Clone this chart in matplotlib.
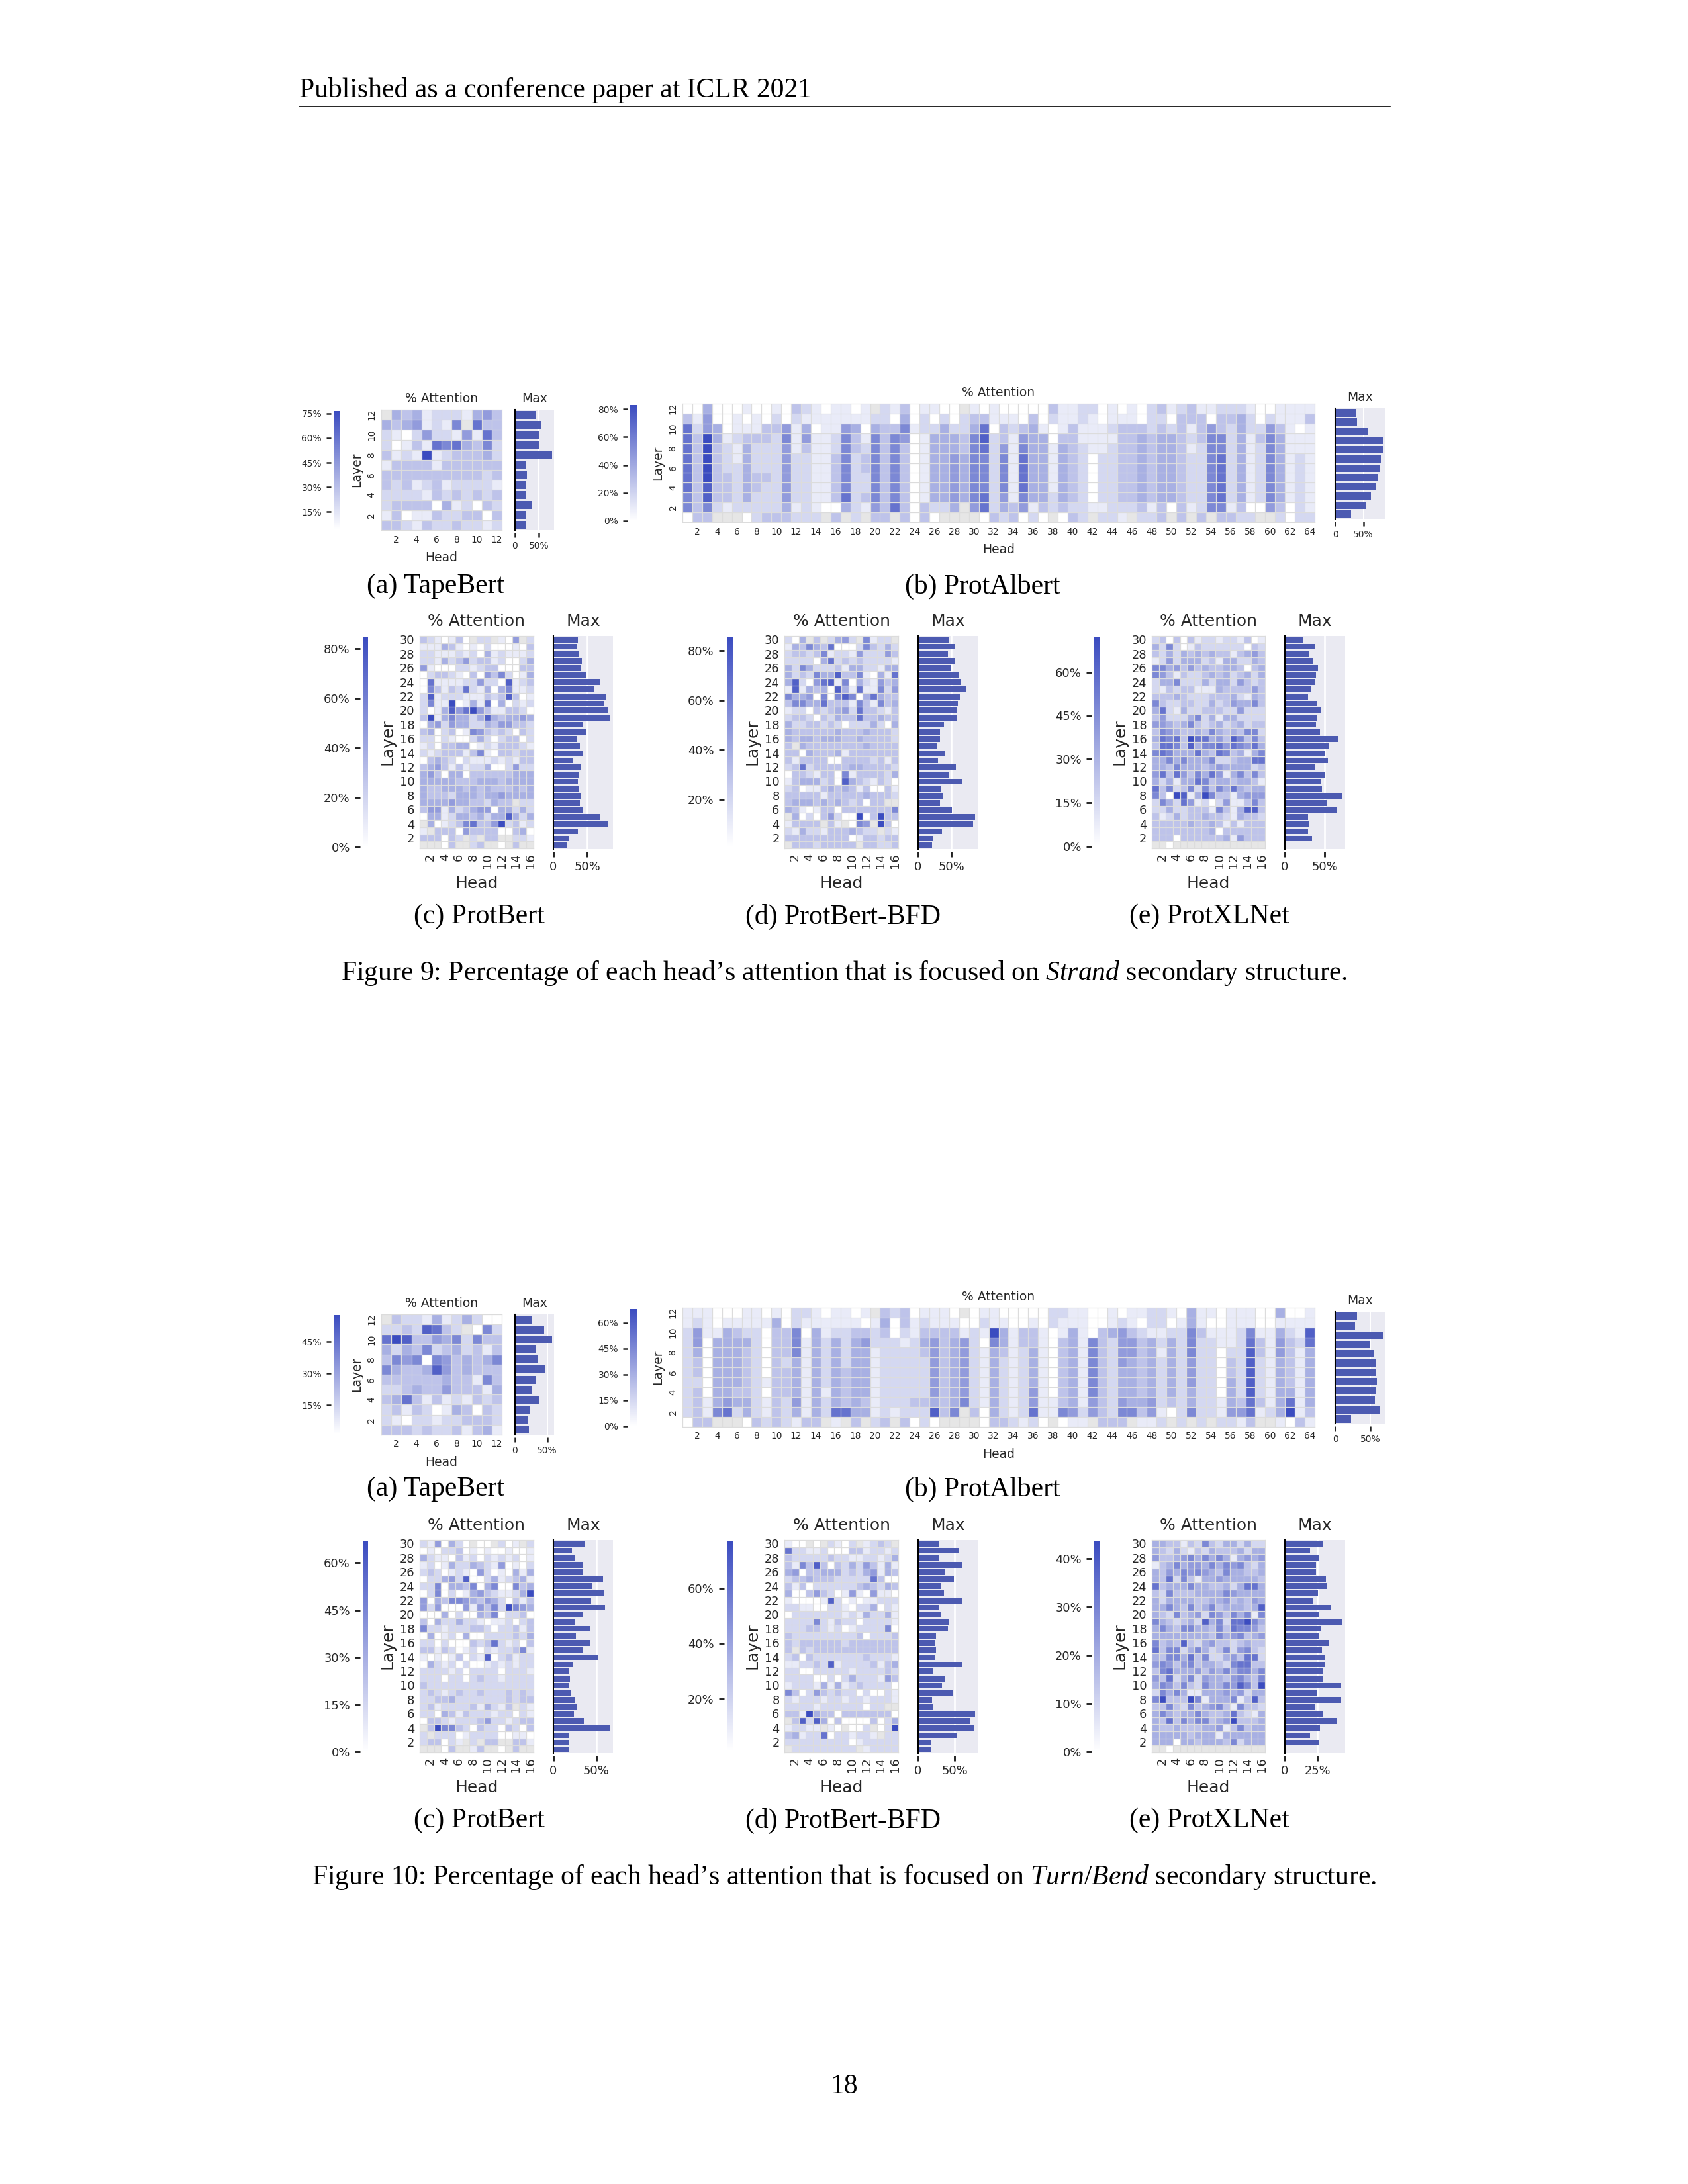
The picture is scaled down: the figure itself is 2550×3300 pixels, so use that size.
import numpy as np
import matplotlib.pyplot as plt
from matplotlib.colors import LinearSegmentedColormap

plt.rcParams['font.family'] = 'DejaVu Sans'
plt.rcParams['mathtext.fontset'] = 'custom'
plt.rcParams['mathtext.rm'] = 'Liberation Serif'
plt.rcParams['mathtext.it'] = 'Liberation Serif:italic'

# heatmap cells: one string per layer (top layer first), one char per head,
# digit = intensity step 0..9 between the colour bar's min and max, '.' = no value
tape9_rows = [
    ".43412221453", "43451216.733", "210252215173", "201317674362",
    "312191233342", "133331333333", "333333333323", "323123122221",
    "222213232323", "233330412032", "130113223303", "332132232212",
]
tape9_max = [44, 55, 51, 51, 77, 23, 25, 23, 22, 34, 23, 22]
tape9_range = (4.3, 76.5)

albert9_rows = [
    "0040001001 032101101. 21301100.1 0100000311 2201010231 2311222100 1111",
    "3150010102 0211111112 2040202023 3111030211 2101110220 3330334202 1113",
    "7254011133 5140115404 3361224224 7032341013 1112333232 3135324225 3101",
    "7394123332 6151126316 3650144436 8231544033 1111334344 3236624136 4111",
    "7393214222 5131126326 3630144436 7251644143 2112334344 3126624126 4111",
    "7393214222 5221136236 3630144546 6261744143 2022334344 3226724126 4121",
    "7393224222 5221136236 3630144546 6261744143 2022334344 3226724126 4121",
    "7393324332 5221136226 3630144546 6261744143 2022334344 3226724126 4121",
    "7383324322 5221136226 3630144546 6261744143 2022334344 3226724126 4121",
    "6383324222 5221137236 3630144546 7251644243 2022334344 3226724126 4121",
    "6362122222 4121004215 37303224.5 7243513232 2112223130 3126613005 3021",
    "033...0233 3222.3.2.3 3.3030.... 0323020.03 2.221.223. 3.3.3322.. 2022",
]
albert9_max = [37.5, 39, 57, 85, 84, 81, 79, 76, 72, 63, 54, 28]
albert9_range = (0, 83)

protbert9_rows = [
    "3210130.22.105.2", "1114310102000103", "2211121204121112", "2214235233120024",
    "5100022123300033", "0233210305362014", "0711112252208123", "0631327214046112",
    "2812221113238301", "2611901417040212", "2014857953113320", "3914644248434454",
    "0452544224355332", "3402301653232032", "2202100242023302", "1203344012133321",
    "2123331361033233", "0343202111212133", "3453131224002522", "4530440333333444",
    "4444433344434444", "4334443434333434", "4333244434454444", "4444544332433.22",
    "3551423455044242", "0441244342448424", ".401236733592312", "1.33305333300340",
    "333032.2.33..221", "...03..23..0.3..",
]
protbert9_max = [36, 35, 37, 42, 40.5, 49, 70, 60, 78, 75.5, 81, 84, 43.5, 49, 34,
                 39.5, 43, 29, 41, 37, 36, 38.5, 41, 39.5, 43, 70, 80, 36, 23, 21]
protbert9_range = (0, 84.6)

bfd9_rows = [
    "204.3.2452.6122.", "1436437000263242", "2332361221522253", "2222047232322221",
    "4264222314422144", "4232644833610417", "4820578160421534", "1814340841711625",
    "6445060686047433", "3664473331631634", "1220323452733213", "2332032433733433",
    "4223323202224204", "4333333433343332", "4344344433433332", "3.43333333343333",
    "3304333413333333", "3133330033332313", "2372333334433332", "0332133061333324",
    "1344423084321320", "2301134343130031", "3333313333343332", "34443434323033..",
    "4310133033333336", ".402035200903933", "13333.31.065.930", "2142213334322.21",
    "3333333330133233", ".333233333.33223",
]
bfd9_max = [46, 55, 44.7, 55.7, 50.3, 62.3, 64.3, 72, 63, 60, 58.7, 57.7, 39.3, 32.7, 33,
            29, 39.7, 30, 57, 46.7, 67.3, 34, 38, 33.3, 50.7, 85.7, 82.7, 35.7, 23.3, 21]
bfd9_range = (1.2, 85.2)

xlnet9_rows = [
    "2303031221221301", "4262013222222032", "3242434343313453", "1252444231442243",
    "6645353433443034", "6531322343423424", "2446222424425323", "2132331114333353",
    "3334322233342143", "6322332242354463", "4721422333225222", "3522246241442222",
    "5543463234234233", "3654334364343662", "4767397745386363", "3776384667576574",
    "6764447437634146", "4464644462234477", "4436444345444423", "5737536475146363",
    "4241447634434431", "7362362636474344", "6309814963314555", "2642751202511363",
    "2242233316314883", "3124233433214332", "3333343343131333", "3333333340333333",
    "3330333333415333", "..0.............",
]
xlnet9_max = [22, 37.2, 30, 34.7, 41.7, 38.6, 37.2, 33, 28.9, 40.8, 45.3, 40.6, 38.6, 44.2,
              66.9, 54.7, 50.3, 53.9, 37.8, 49.7, 45.3, 46.4, 71.9, 53, 65.3, 29.2, 30.8,
              29.4, 33.9, np.nan]
xlnet9_range = (0, 72)

tape10_rows = [
    ".32214124200", "22328732.062", "798335462633", "424362342313",
    "365606534346", "643348534333", "333333433163", "223433533314",
    "347313121323", "231320143032", "210221223332", "333232231341",
]
tape10_max = [26.2, 45.5, 57.7, 32.2, 35.7, 46.9, 32.5, 25.9, 36.7, 23.4, 19.6, 22]
tape10_range = (1.4, 57.6)

albert10_rows = [
    "1110001101 022101101. 32301110.0 1100000221 1001011221 0411011100 4001",
    "1210111114 0211111101 4031211100 2110010211 1001210220 1410011100 1111",
    "2511432203 3604122332 3021333312 1941331014 1034532112 2631112611 4218",
    "2504444203 3614242452 2212453452 0641331034 1632553424 2622112731 5327",
    "2404443203 3614242441 2222353452 1431241034 1632553414 2622022831 5314",
    "2304443203 2414242441 2222253452 1421241034 1632543424 2522032821 4314",
    "2304443203 3414243441 2222253452 1421241034 1632443424 2522032821 4314",
    "2204443213 3414243441 2222253452 1421241034 1632443424 2522042821 4314",
    "2304433203 3414143441 2222253452 1421251034 1632443424 2422042821 4414",
    "2314544213 2514243431 2223343462 1421251134 1532544523 2422143731 4714",
    "2316724213 2414277441 21222836.3 0421271165 2532663510 2622155712 4913",
    "033...0323 2133.1.3.2 3.3020.... 0332120.01 1.333.112. 2.2.2213.. 1031",
]
albert10_max = [31.1, 28.5, 68.1, 49.6, 54.8, 57.8, 58.5, 58.9, 58.5, 56.3, 64.1, 22.6]
albert10_range = (0, 68)

protbert10_rows = [
    "2150420.00.201.2", "0102230101001001", "4211031202121201", "1201422432150102",
    "2320121052010414", "0224528002412341", "2260443604600634", "0260201453211249",
    "5043665435420313", "5250005153629654", "0004020043602230", "3042242210112023",
    "6221222332022313", "0401204002222324", "2202000323721203", "3313201202122361",
    "1010130218023122", "0421202001212122", "2222120222202221", "2220220232212222",
    "3222222222222222", "2321232232223232", "2233422222223233", "2312222314213.21",
    "2204313222122021", "0332122235221233", ".396632032203203", "2.22201222200110",
    "233021.2.33..331", "...03..13..0.3..",
]
protbert10_max = [36.2, 21.5, 25.1, 33.8, 34.4, 57.7, 44.9, 59.5, 43.8, 60.5, 33.8, 25.1,
                  42.6, 26.2, 42.8, 35.1, 52.6, 23.3, 17.7, 19.2, 17.9, 20.5, 24.6, 27.9,
                  24.1, 35.6, 66.2, 17.7, 17.7, 17.9]
protbert10_range = (0, 66.8)

bfd10_rows = [
    "100.0.2102.1232.", "7221120003312212", "3222223221122124", "3163830324253141",
    "4503344423245143", "2334333222227300", "3130222222343243", "4003532015105110",
    "1000018201011222", "2211002210224021", "0222222212142241", "2222621322022221",
    "2223321201222260", "3222222222302223", "3233333323333333", "3.32333333333333",
    "2303222222232221", "1122328122223134", "2200222221222232", "2222002024222153",
    "1222141412322220", "6302532322020021", "2122212212212221", "22221222222022..",
    "3319433033333330", ".382840300003024", "12211.10.002.029", "3412270221221.22",
    "2222222220122222", ".222222222.12222",
]
bfd10_max = [27.7, 56, 29.2, 59.6, 36.1, 48.8, 31, 34.9, 60.2, 28.6, 30.4, 42.8, 40.4,
             24.1, 23.5, 24.4, 23.5, 60.5, 20.2, 36.4, 32.5, 47, 18.7, 19.9, 77.4, 70.8,
             76.8, 52.1, 17.5, 17.5]
bfd10_range = (1.2, 77)

xlnet10_rows = [
    "4433132632442422", "4324213243334244", "5334564646414545", "1346455464656324",
    "4354656543644334", "4372631445444443", "7344464433424774", "3263334444654444",
    "4244443344534354", "4464363463444348", "4326345265364616", "6432342846277964",
    "4643664436376653", "4444444436456345", "6343832453323433", "7366246423625632",
    "4366473622453772", "5653563443267733", "3674445354646646", "5372462544356436",
    "4653632644658639", "2646411444545244", "6933396144461383", "3363263456316332",
    "4643446433473214", "4373646634593334", "4334333445136344", "4444434441444444",
    "4440443444362444", "..0.............",
]
xlnet10_max = [28.7, 19.4, 26.5, 24, 24, 31.3, 32, 25.2, 21.9, 35.5, 26, 43.9, 27.7,
               25.7, 33.8, 28.4, 30.3, 31, 29.3, 29.3, 43.2, 24.8, 42.9, 23.1, 29.1, 40,
               26.9, 19.4, 26, np.nan]
xlnet10_range = (0, 43.6)

W, H = 2550, 3300
TXT = '#262626'
BAR = '#4c5ab1'
cmap = LinearSegmentedColormap.from_list('attn', ['#ffffff', '#3b4cc0'])

fig = plt.figure(figsize=(8.5, 11), dpi=300)


def box(x0, y0, x1, y1):
    return [x0 / W, 1 - y1 / H, (x1 - x0) / W, (y1 - y0) / H]


def decode(rows, lo, hi):
    grid = []
    for r in rows[::-1]:
        r = r.replace(' ', '')
        grid.append([np.nan if c == '.' else lo + int(c) / 9 * (hi - lo) for c in r])
    return np.array(grid)


def draw(rows, maxv, rng, cticks, mticks, cb, hb, mb, big):
    lo, hi = rng
    data = decode(rows, lo, hi)
    n, m = data.shape
    fs_tick = 4.3 if big else 3.3
    fs_lab = 6.0 if big else 4.5
    pad_t = 3.6 if big else 2.7

    # heatmap
    ax = fig.add_axes(box(*hb))
    ax.set_facecolor('#e6e6e6')
    mesh = ax.pcolormesh(np.arange(m + 1) + 0.5, np.arange(n + 1) + 0.5, data,
                         cmap=cmap, vmin=lo, vmax=hi)
    ax.set_xlim(0.5, m + 0.5)
    ax.set_ylim(0.5, n + 0.5)
    ax.set_xticks(range(2, m + 1, 2))
    ax.set_yticks(range(2, n + 1, 2))
    ax.set_xticks(np.arange(1.5, m, 1), minor=True)
    ax.set_yticks(np.arange(1.5, n, 1), minor=True)
    ax.grid(which='minor', color='#dcdcdc', lw=0.3)
    ax.set_axisbelow(False)
    ax.tick_params(which='both', length=0, labelsize=fs_tick, colors=TXT, pad=1.8)
    if big:
        plt.setp(ax.get_xticklabels(), rotation=90)
    else:
        plt.setp(ax.get_yticklabels(), rotation=90, va='center')
    for s in ax.spines.values():
        s.set_color('#dcdcdc')
        s.set_linewidth(0.3)
    ax.set_xlabel('Head', fontsize=fs_lab, color=TXT, labelpad=2.5)
    ax.set_ylabel('Layer', fontsize=fs_lab, color=TXT, labelpad=1.5)
    ax.set_title('% Attention', fontsize=fs_lab, color=TXT, pad=pad_t)

    # colour bar
    cax = fig.add_axes(box(*cb))
    cbar = fig.colorbar(mesh, cax=cax, ticks=cticks)
    cbar.outline.set_visible(False)
    cax.yaxis.set_ticks_position('left')
    cax.spines['left'].set_position(('outward', 1.0))
    cax.set_yticklabels([f'{t}%' for t in cticks])
    cax.tick_params(length=2.0 if big else 1.7, width=0.7 if big else 0.6,
                    color='#222222', labelsize=fs_tick, labelcolor=TXT, pad=1.6)

    # max per layer
    mx = fig.add_axes(box(*mb))
    mx.set_facecolor('#eaeaf2')
    layers = np.arange(n, 0, -1)
    mx.barh(layers, np.nan_to_num(maxv), height=0.8, color=BAR, zorder=2)
    mx.set_ylim(0.5, n + 0.5)
    mx.set_xlim(0, np.nanmax(maxv) * 1.05)
    mx.set_xticks(mticks)
    mx.set_xticklabels(['0'] + [f'{t}%' for t in mticks[1:]])
    mx.set_yticks([])
    mx.grid(axis='x', color='white', lw=0.65 if big else 0.5)
    mx.set_axisbelow(True)
    for k in ('top', 'right', 'bottom'):
        mx.spines[k].set_visible(False)
    mx.spines['bottom'].set_position(('outward', 1.0))
    mx.spines['left'].set_color('black')
    mx.spines['left'].set_linewidth(0.5)
    mx.tick_params(axis='x', length=2.0 if big else 1.6, width=0.7 if big else 0.6,
                   color='#222222', labelsize=fs_tick, labelcolor=TXT, pad=1.4)
    mx.set_title('Max', fontsize=fs_lab, color=TXT, pad=pad_t)


# Figure 9
draw(tape9_rows, tape9_max, tape9_range, [15, 30, 45, 60, 75], [0, 50],
     (504, 621, 514, 800), (576, 619, 758, 801), (778, 619, 837, 801), False)
draw(albert9_rows, albert9_max, albert9_range, [0, 20, 40, 60, 80], [0, 50],
     (952, 612, 963, 787), (1031, 610, 1986, 789), (2017, 617, 2093, 784), False)
draw(protbert9_rows, protbert9_max, protbert9_range, [0, 20, 40, 60, 80], [0, 50],
     (548, 963, 556, 1280), (634, 961, 806, 1282), (836, 961, 926, 1283), True)
draw(bfd9_rows, bfd9_max, bfd9_range, [20, 40, 60, 80], [0, 50],
     (1098, 963, 1107, 1279), (1185, 961, 1357, 1282), (1387, 961, 1477, 1283), True)
draw(xlnet9_rows, xlnet9_max, xlnet9_range, [0, 15, 30, 45, 60], [0, 50],
     (1653, 963, 1662, 1279), (1740, 961, 1911, 1282), (1941, 961, 2032, 1283), True)

# Figure 10
draw(tape10_rows, tape10_max, tape10_range, [15, 30, 45], [0, 50],
     (504, 1987, 514, 2167), (576, 1986, 758, 2168), (778, 1986, 837, 2168), False)
draw(albert10_rows, albert10_max, albert10_range, [0, 15, 30, 45, 60], [0, 50],
     (952, 1978, 963, 2155), (1031, 1976, 1986, 2156), (2017, 1982, 2093, 2151), False)
draw(protbert10_rows, protbert10_max, protbert10_range, [0, 15, 30, 45, 60], [0, 50],
     (548, 2329, 556, 2647), (634, 2327, 806, 2648), (836, 2327, 926, 2649), True)
draw(bfd10_rows, bfd10_max, bfd10_range, [20, 40, 60], [0, 50],
     (1098, 2329, 1107, 2645), (1185, 2327, 1357, 2648), (1387, 2327, 1477, 2649), True)
draw(xlnet10_rows, xlnet10_max, xlnet10_range, [0, 10, 20, 30, 40], [0, 25],
     (1653, 2329, 1662, 2647), (1740, 2327, 1911, 2648), (1941, 2327, 2032, 2649), True)

# page text
serif = dict(family='Liberation Serif', size=10, color='black')


def ptext(x, y, s, **kw):
    fig.text(x / W, 1 - y / H, s, **serif, **kw)


ptext(452, 147, 'Published as a conference paper at ICLR 2021', va='baseline')
fig.add_artist(plt.Line2D([452 / W, 2100 / W], [1 - 161 / H] * 2, color='black', lw=0.4))

for (x, y, s) in [(658, 886, '(a) TapeBert'), (1484, 886, '(b) ProtAlbert'),
                  (724, 1385, '(c) ProtBert'), (1273, 1385, '(d) ProtBert-BFD'),
                  (1827, 1385, '(e) ProtXLNet'),
                  (658, 2250, '(a) TapeBert'), (1484, 2250, '(b) ProtAlbert'),
                  (724, 2751, '(c) ProtBert'), (1273, 2751, '(d) ProtBert-BFD'),
                  (1827, 2751, '(e) ProtXLNet')]:
    ptext(x, y, s, ha='center', va='center')

ptext(1275, 1470, 'Figure 9: Percentage of each head’s attention that is focused on '
      r'$\mathit{Strand}$ secondary structure.', ha='center', va='center')
ptext(1275, 2837, 'Figure 10: Percentage of each head’s attention that is focused on '
      r'$\mathit{Turn/Bend}$ secondary structure.', ha='center', va='center')
ptext(1275, 3153, '18', ha='center', va='center')

fig.savefig('out.png', dpi=300)
